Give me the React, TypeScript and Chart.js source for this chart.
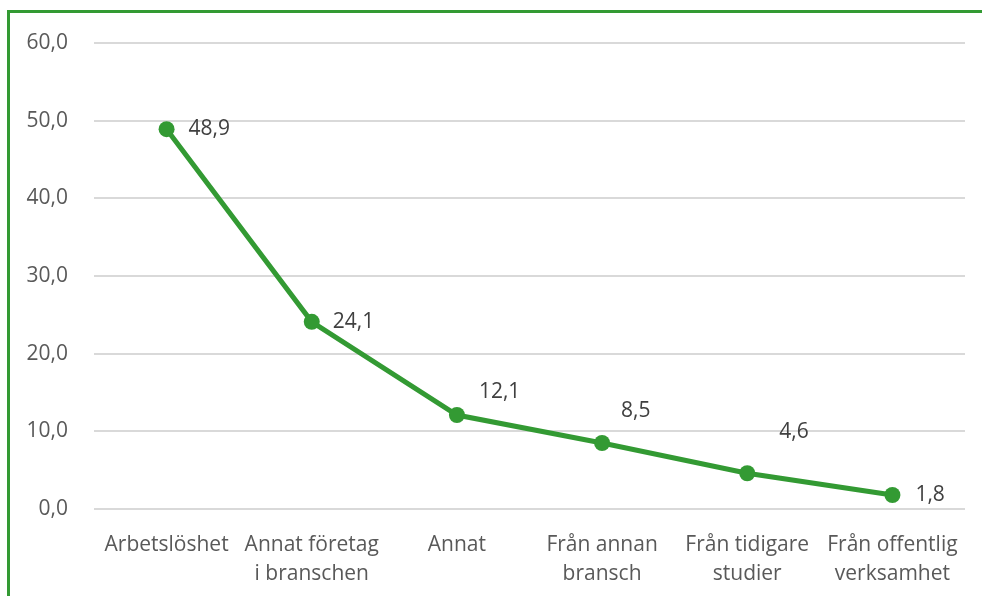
import React, { useEffect, useRef } from "react";
import { Chart, registerables } from "chart.js";

Chart.register(...registerables);

const categories: (string | string[])[] = [
  "Arbetslöshet",
  ["Annat företag", "i branschen"],
  "Annat",
  ["Från annan", "bransch"],
  ["Från tidigare", "studier"],
  ["Från offentlig", "verksamhet"],
];
const values = [48.9, 24.1, 12.1, 8.5, 4.6, 1.8];
const yTicks = [0, 10, 20, 30, 40, 50, 60];

// label offsets (dx, dy) relative to each point, styling only
const labelOffsets: [number, number][] = [
  [22, 0],
  [21, 0],
  [22, -23],
  [19, -32],
  [32, -41],
  [23, 0],
];

const GREEN = "#339a33";
const FONT = "'Open Sans', 'Noto Sans', sans-serif";
const FS = 21;

const fmt = (v: number) => v.toFixed(1).replace(".", ",");

const labelPlugin = {
  id: "valueLabels",
  afterDatasetsDraw(chart: any) {
    const ctx = chart.ctx;
    const meta = chart.getDatasetMeta(0);
    ctx.save();
    ctx.font = `${FS}px ${FONT}`;
    ctx.fillStyle = "#404040";
    ctx.textAlign = "left";
    ctx.textBaseline = "middle";
    meta.data.forEach((pt: any, i: number) => {
      const [dx, dy] = labelOffsets[i];
      ctx.fillText(fmt(values[i]), pt.x + dx, pt.y + dy);
    });
    ctx.restore();
  },
};

export default function App() {
  const ref = useRef<HTMLCanvasElement>(null);
  useEffect(() => {
    document.body.style.overflow = "hidden";
    const chart = new Chart(ref.current!, {
      type: "line",
      data: {
        labels: categories,
        datasets: [
          {
            data: values,
            borderColor: GREEN,
            backgroundColor: GREEN,
            borderWidth: 5,
            pointRadius: 8,
            pointBackgroundColor: GREEN,
            pointBorderColor: GREEN,
            pointBorderWidth: 0,
            tension: 0,
          },
        ],
      },
      options: {
        responsive: false,
        animation: false,
        layout: { padding: { left: 0, right: 17, top: 30, bottom: 0 } },
        plugins: { legend: { display: false }, tooltip: { enabled: false } },
        scales: {
          x: {
            offset: true,
            grid: { display: false },
            border: { display: false },
            ticks: {
              color: "#595959",
              font: { family: FONT, size: FS, lineHeight: 1.38 },
              padding: 14,
              maxRotation: 0,
              autoSkip: false,
            },
            afterFit: (s: any) => {
              s.height = 87;
              s.paddingLeft = 0;
              s.paddingRight = 0;
            },
          },
          y: {
            min: 0,
            max: 60,
            afterBuildTicks: (s: any) => {
              s.ticks = yTicks.map((v) => ({ value: v }));
            },
            grid: { color: "#d9d9d9", lineWidth: 2, drawTicks: false },
            border: { display: false },
            ticks: {
              color: "#595959",
              font: { family: FONT, size: FS },
              padding: 26,
              callback: (v: any) => fmt(Number(v)),
            },
            afterFit: (s: any) => {
              s.width = 84;
              s.paddingTop = 0;
              s.paddingBottom = 0;
            },
          },
        },
      },
      plugins: [labelPlugin],
    } as any);
    return () => chart.destroy();
  }, []);
  return (
    <div
      style={{
        position: "absolute",
        left: 7,
        top: 10,
        width: 975,
        height: 586,
        borderLeft: `3px solid ${GREEN}`,
        borderTop: `3px solid ${GREEN}`,
        background: "#fff",
      }}
    >
      <canvas ref={ref} width={972} height={583} style={{ display: "block" }} />
    </div>
  );
}
